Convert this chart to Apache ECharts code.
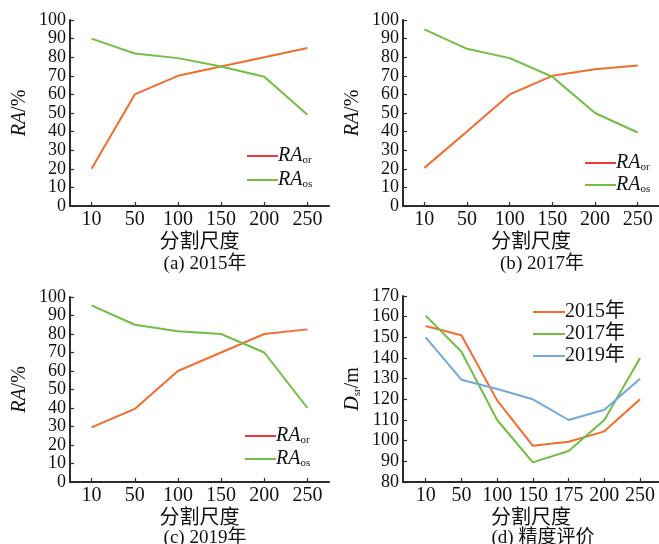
<!DOCTYPE html>
<html><head><meta charset="utf-8">
<script src="https://cdn.jsdelivr.net/npm/echarts@6/dist/echarts.min.js"></script>
<style>html,body{margin:0;padding:0;background:#fff}#c{width:659px;height:544px}</style>
</head><body><div id="c"></div>
<script>
// ---- data ----
const scalesABC = ['10', '50', '100', '150', '200', '250'];
const scalesD = ['10', '50', '100', '150', '175', '200', '250'];
const raOr2015 = [20, 60, 70, 75, 80, 85];
const raOs2015 = [90, 82, 79.5, 75, 69.5, 49];
const raOr2017 = [20.5, 40, 60, 70, 73.5, 75.5];
const raOs2017 = [95, 84.5, 79.5, 69.5, 50, 39.5];
const raOr2019 = [29.5, 39.5, 60, 70, 80, 82.5];
const raOs2019 = [95.5, 85, 81.5, 80, 70, 40];
const dsr2015 = [155.5, 151, 119.5, 97.5, 99.5, 104.5, 120];
const dsr2017 = [160.5, 143, 110, 89.5, 95, 110, 140];
const dsr2019 = [150, 129.5, 125, 120, 110, 115, 130];
const captions = ['(a) 2015年', '(b) 2017年', '(c) 2019年', '(d) 精度评价'];
const xName = '分割尺度';
const yearNames = ['2015年', '2017年', '2019年'];

// ---- style ----
const FF = '"Liberation Serif", "Noto Sans CJK SC", serif';
const ORANGE = '#f26d2d', GREEN = '#72bd45', BLUE = '#72a8dc', RED = '#ee3a3a';
const AX = '#2b2b2b';

const grids = [
  {left: 70, top: 20, width: 259, height: 186},
  {left: 403, top: 20, width: 256, height: 186},
  {left: 70, top: 297, width: 259, height: 185},
  {left: 403, top: 296, width: 256, height: 186}
];

const axisLine = {show: true, onZero: false, lineStyle: {color: AX, width: 2}};
const axisTick = {show: true, inside: true, length: 4, lineStyle: {color: AX, width: 1.2}};
const xLabelStyle = {color: '#111', fontFamily: FF, fontSize: 20};
const yLabelStyle = {color: '#111', fontFamily: FF, fontSize: 18};
const nameStyle = {color: '#111', fontFamily: FF, fontSize: 20};

function xCat(gi) {
  return {
    gridIndex: gi, type: 'category', data: scalesABC, boundaryGap: true,
    axisLine, axisTick: Object.assign({alignWithLabel: true}, axisTick),
    axisLabel: Object.assign({margin: 4, interval: 0}, xLabelStyle),
    splitLine: {show: false},
    name: xName, nameLocation: 'middle', nameGap: 27, nameTextStyle: nameStyle
  };
}
function xVal(gi) {
  return {
    gridIndex: gi, type: 'value', min: -0.635, max: 6.53,
    axisLine, axisTick: Object.assign({customValues: scalesD.map((s, i) => i)}, axisTick),
    axisLabel: Object.assign({margin: 4, customValues: scalesD.map((s, i) => i),
      formatter: v => scalesD[Math.round(v)]}, xLabelStyle),
    splitLine: {show: false},
    name: xName, nameLocation: 'middle', nameGap: 27, nameTextStyle: nameStyle
  };
}
function yAx(gi, min, max, name) {
  return {
    gridIndex: gi, type: 'value', min, max, interval: 10,
    axisLine, axisTick,
    axisLabel: Object.assign({margin: 4}, yLabelStyle),
    splitLine: {show: false},
    name, nameLocation: 'middle', nameRotate: 90, nameGap: 40,
    nameTextStyle: {
      color: '#111', fontFamily: FF, fontSize: 20,
      rich: {
        i: {fontStyle: 'italic', fontFamily: FF, fontSize: 20, color: '#111'},
        n: {fontFamily: FF, fontSize: 20, color: '#111'},
        s: {fontFamily: FF, fontSize: 11, color: '#111', verticalAlign: 'bottom', lineHeight: 12}
      }
    }
  };
}

function line(name, gi, data, color, useIdx) {
  return {
    name, type: 'line', xAxisIndex: gi, yAxisIndex: gi,
    data: useIdx ? data.map((v, i) => [i, v]) : data,
    symbol: 'none', lineStyle: {color, width: 2}, itemStyle: {color},
    silent: true, animation: false
  };
}

const legendRich = {
  i: {fontStyle: 'italic', fontFamily: FF, fontSize: 20, color: '#111', lineHeight: 20},
  s: {fontFamily: FF, fontSize: 11, color: '#111', verticalAlign: 'bottom', lineHeight: 10}
};
function raLegend(left, top, gap) {
  return {
    orient: 'vertical', left, top, itemGap: gap, itemWidth: 31, itemHeight: 2, icon: 'rect',
    data: [{name: 'RA_or', itemStyle: {color: RED}}, {name: 'RA_os', itemStyle: {color: GREEN}}],
    formatter: n => n === 'RA_or' ? '{i|RA}{s|or}' : '{i|RA}{s|os}',
    textStyle: {rich: legendRich, padding: [0, 0, 0, -5]}
  };
}

const option = {
  animation: false,
  backgroundColor: '#fff',
  grid: grids,
  xAxis: [xCat(0), xCat(1), xCat(2), xVal(3)],
  yAxis: [
    yAx(0, 0, 100, '{i|RA}{n|/%}'),
    yAx(1, 0, 100, '{i|RA}{n|/%}'),
    yAx(2, 0, 100, '{i|RA}{n|/%}'),
    yAx(3, 80, 170, '{i|D}{s|sr}{n|/m}')
  ],
  legend: [
    raLegend(242, 141, 4),
    raLegend(580, 148, 2),
    raLegend(240, 421, 3),
    {
      orient: 'vertical', left: 528, top: 297, itemGap: 2, itemWidth: 32, itemHeight: 2, icon: 'rect',
      data: yearNames,
      textStyle: {color: '#111', fontFamily: FF, fontSize: 20, padding: [0, 0, 0, -5]}
    }
  ],
  title: captions.map((t, i) => ({
    text: t, left: [200, 537, 200, 538][i], top: [250, 250, 524, 524][i], textAlign: 'center',
    textStyle: {color: '#111', fontFamily: FF, fontSize: 19, fontWeight: 'normal'}
  })),
  series: [
    line('RA_or', 0, raOr2015, ORANGE), line('RA_os', 0, raOs2015, GREEN),
    line('RA_or', 1, raOr2017, ORANGE), line('RA_os', 1, raOs2017, GREEN),
    line('RA_or', 2, raOr2019, ORANGE), line('RA_os', 2, raOs2019, GREEN),
    line(yearNames[0], 3, dsr2015, ORANGE, true),
    line(yearNames[1], 3, dsr2017, GREEN, true),
    line(yearNames[2], 3, dsr2019, BLUE, true)
  ]
};
const chart = echarts.init(document.getElementById('c'), null, {renderer: 'canvas'});
chart.setOption(option);
</script>
</body></html>
